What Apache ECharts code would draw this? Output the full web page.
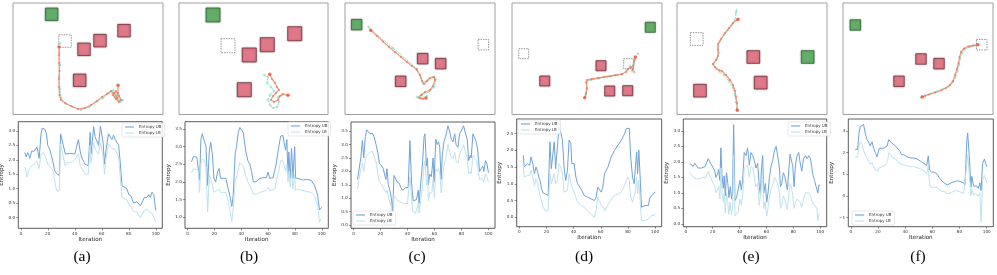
<!DOCTYPE html>
<html><head><meta charset="utf-8">
<script src="https://cdn.jsdelivr.net/npm/echarts@6/dist/echarts.min.js"></script>
<style>html,body{margin:0;padding:0;background:#fff}#c{width:997px;height:275px}</style>
</head><body><div id="c"></div>
<script>
// ---------- DATA ----------
const panelLabels = ['(a)','(b)','(c)','(d)','(e)','(f)'];
const xTicks = [0,20,40,60,80,100];
const yTicksA = [0,0.5,1,1.5,2,2.5,3];
const yTicksB = [1,1.5,2,2.5,3,3.5];
const yTicksC = [0,0.5,1,1.5,2,2.5,3,3.5];
const yTicksD = [0,0.5,1,1.5,2,2.5];
const yTicksE = [0,0.5,1,1.5,2,2.5,3];
const yTicksF = [-1,0,1,2,3];

// top panels: positions in map units
const goalA = [[38.7,11.3]];
const startA = [[52,38]];
const obsA = [[71,46.3],[87,37.7],[111,27.7],[66.7,77.3]];
const pathA = [[46,44],[46,52],[46,60],[46.5,68],[46,76],[46,84],[46.5,92],[48,97],[52,100],[58,103],[65,106],[72,105],[78,102],[84,98],[89,94],[94,91],[98,88],[101,90],[104,95],[106,99],[103,96],[100,92],[103,88],[106,93],[108,97],[105,90],[105,82.3]];
const refA = [[47,40],[46.5,50],[47,62],[46,74],[47,86],[48,95],[53,101],[60,104],[68,107],[76,104],[83,99],[90,95],[96,90],[100,87],[104,92],[107,99],[102,94],[99,90],[104,93],[108,98],[110,97]];

const goalB = [[34,12]];
const startB = [[49,42.7]];
const obsB = [[70.3,52],[88.3,41.7],[115.7,30.7],[65.3,86.7]];
const pathB = [[90.7,71.3],[93,76],[96,80],[98,84],[100,87],[97,90],[94,93],[92,97],[95,99],[99,97],[101,93],[104,91],[109,92.3]];
const refB = [[85,72],[89,74],[88,80],[92,84],[95,88],[91,92],[89,97],[91,102],[94,105],[98,104],[100,99],[99,94],[103,92]];

const goalC = [[11.7,21.7]];
const startC = [[138.3,41.7]];
const obsC = [[77.7,55.7],[95.7,60.7],[55.7,78.3]];
const pathC = [[25.7,27.3],[32,33],[38,38.5],[44,44],[50,49],[56,54],[62,59],[67,63],[71.7,66.7],[75,72],[77,78],[79,81],[82,78],[85,75],[89,74],[90,77],[88,83],[85,87],[80,89],[76,92],[74,95],[78,96],[81,95]];
const refC = [[23.3,24],[48,45],[72,66],[76,75],[78,80],[83,77],[88,74],[91,76],[89,84],[84,89],[77,92],[72,94],[76,95],[82,93]];

const goalD = [[138.3,24.3]];
const startD = [[11.7,50.7],[116.7,60.7]];
const obsD = [[89,62.7],[32.7,78],[97.7,88],[115.7,87.7]];
const pathD = [[72.7,94.7],[74,90],[75,85],[74.5,80],[75,77],[80,76],[86,75],[92,74],[98,73],[104,72],[110,71],[114,69],[116,66],[119,64],[121,67],[122,69],[121,63],[122,58],[123.3,54]];
const refD = [[74,92],[75,86],[74,79],[79,77],[87,75.5],[95,74],[103,72.5],[110,71.5],[115,67],[118,63],[120,68],[122,61],[124,55],[126,50.7]];

const goalE = [[130.7,54]];
const startE = [[19.7,36]];
const obsE = [[76.3,54],[83.7,79.7],[23,87.7]];
const pathE = [[60.3,107.3],[60,100],[59,94],[58,88],[56,82],[53,77],[49,72],[45,68],[42,67],[38,64],[36,61],[39,57],[41,53],[41,47],[41,41],[44,36],[48,30],[52,25],[56,20],[60,17],[61,16.3]];
const refE = [[60,106],[59,99],[58,92],[56,85],[52,78],[47,72],[43,69],[39,66],[36,61],[40,56],[42,50],[41,44],[43,38],[47,32],[51,27],[55,22],[58,17],[59,10],[59.3,7.3]];

const goalF = [[12.3,22]];
const startF = [[138.7,41.7]];
const obsF = [[78,56],[96,60.7],[56,78.3]];
const pathF = [[135,41.7],[130,42.5],[125,43.5],[121,45.5],[118,49],[116.5,54],[115.5,60],[114,66],[112,72],[110,78],[107,82],[103,85],[98,87.5],[92,89.5],[86,91.5],[82,93],[79.3,94]];
const refF = [[133,42.5],[127,44],[122,46],[119,50],[117,56],[116,62],[114.5,68],[112.5,74],[110,79],[106,83],[100,86],[94,88.5],[88,90.5],[82,92.5],[78,94.5]];

// bottom panels: [iteration, entropy]
const ubA = [[3,2.26],[4,2.1],[5,2.25],[6,2.15],[6.7,2.05],[8,2.3],[10,2.3],[12,2.45],[13.6,2.05],[15,2.9],[16,3.1],[17,3.13],[18,3.05],[19,2.9],[20,2.5],[21.6,2.35],[23,2.3],[24,1.9],[25,1.65],[26,1.55],[27,1.5],[28.5,1.45],[29.5,2.9],[31.5,2.5],[33,2.2],[34,2.22],[36,2.22],[38,2.22],[39,2.25],[40,2.2],[42.7,2.7],[44,2.3],[45,2.1],[47.6,1.85],[49,1.8],[50,1.8],[51.4,2.95],[52,2.2],[54,3.15],[55,2.8],[56,2.7],[57.6,2.5],[59,3.17],[61,2.6],[62,1.85],[63,2.3],[65,2.9],[66,2.85],[67.5,2.7],[68.7,2.85],[70,2.7],[71,2.7],[72.5,2.5],[73.7,1.9],[75,1.1],[76,1.05],[77,1.05],[78.6,1.0],[80,0.8],[81.6,0.75],[83.6,0.5],[85,0.5],[86,0.55],[88.6,0.4],[90,0.4],[91.6,0.7],[93.5,0.7],[94.8,0.8],[96,0.7],[97.3,0.88],[98.5,0.8],[100,0.25]];
const lbA = [[3,1.75],[4.7,1.4],[6,1.65],[8,1.8],[10,1.85],[12,1.95],[13.6,1.7],[15,2.2],[16,2.2],[17,2.25],[18,2.15],[19,2.1],[20,1.85],[22,1.75],[24,1.6],[25,1.3],[26,1.05],[27,0.92],[28.5,0.92],[29.5,2.55],[31,2.2],[33,1.8],[34,1.9],[36,1.9],[38,1.92],[40,2.0],[42.7,2.2],[44,1.8],[46,1.65],[48,1.5],[50,1.5],[51.4,2.5],[52,1.9],[54,2.6],[55,2.4],[56,2.3],[57.6,2.2],[59,2.6],[61,2.1],[62,1.5],[63,2.0],[65,2.55],[66,2.5],[67.5,2.4],[68.7,2.45],[70,2.35],[71,2.3],[72.5,2.1],[73.7,1.4],[75,0.7],[76,0.65],[77,0.65],[79,0.6],[80,0.45],[81.6,0.4],[83.6,0.2],[85,0.2],[86,0.2],[88.6,0.0],[90,0.0],[91.6,0.25],[93.5,0.3],[94.8,0.2],[96,0.15],[97.3,0.15],[98.5,0.1],[100,-0.15]];

const ubB = [[3,2.57],[4.4,2.72],[5.7,2.68],[7,2.7],[8,2.68],[9,2.05],[10,3.2],[11,3.37],[12.6,3.15],[13.8,3.0],[15,1.9],[16.3,2.9],[17.3,3.12],[18.5,2.8],[19.7,2.1],[21,2.0],[22.5,2.3],[23.5,2.38],[24.7,2.1],[26,2.15],[27,2.1],[28.6,2.1],[30,1.85],[31.6,1.6],[33,1.3],[34,1.6],[35.5,2.8],[36.5,3.0],[37.8,3.4],[39,3.55],[40.2,3.57],[41.5,3.4],[43.5,2.85],[45,2.6],[46.4,2.5],[47.7,2.3],[49,2.0],[51,2.0],[52,2.05],[54,2.1],[56.3,2.12],[58.8,2.12],[60,2.28],[61.2,2.1],[63.7,2.12],[65,2.15],[66,2.5],[68,3.0],[69.4,3.3],[71,3.32],[72.3,3.3],[73,2.9],[74,3.2],[74.8,2.2],[75.5,2.85],[76.5,2.1],[77.5,2.95],[78.5,2.1],[79.8,3.0],[80.5,2.1],[82,2.1],[86,2.05],[88.4,2.07],[92,2.05],[93.3,2.1],[94.6,1.9],[97,1.6],[98.3,1.2],[99.5,1.25],[100,1.28]];
const lbB = [[3,2.25],[4.4,2.38],[5.7,2.33],[8,2.33],[9,1.7],[10,2.5],[11,2.65],[12.6,2.6],[13.8,2.4],[15,1.15],[16.3,2.2],[17.3,2.2],[18.5,1.9],[19.7,1.7],[21,1.65],[23.5,1.8],[24.7,1.7],[27,1.7],[28.6,1.7],[30,1.5],[31.6,1.2],[33,0.88],[34,1.2],[35.5,2.0],[37,2.2],[39,2.55],[40.2,2.57],[41.5,2.45],[43.5,2.15],[45.5,1.95],[47.7,1.8],[49,1.65],[51,1.65],[54,1.7],[58,1.75],[60,1.85],[61.2,1.75],[65,1.8],[66,2.0],[68,2.3],[69.4,2.6],[71,2.62],[72.3,2.6],[73,2.3],[74,2.5],[74.8,2.0],[75.5,2.3],[76.5,1.85],[77.5,2.35],[78.5,1.8],[79.8,2.2],[80.5,1.75],[82,1.8],[86,1.75],[92,1.7],[94.6,1.6],[97,1.3],[98.3,0.85],[99.5,0.95],[100,0.95]];

const ubC = [[3,1.7],[4.2,1.75],[5.4,2.5],[6.6,3.15],[7.6,2.5],[8.8,3.3],[9.8,3.55],[11,3.5],[12.3,3.4],[14,3.42],[15.2,3.3],[16.7,3.0],[18,2.7],[19.2,2.3],[21,2.2],[22,2.1],[23.3,2.05],[24,1.7],[24.8,2.1],[25.8,1.5],[27,1.3],[28.3,0.9],[29,0.45],[30,1.85],[31.4,1.8],[32.4,1.6],[34,1.55],[35,1.4],[36.4,1.3],[37.3,1.3],[38.8,1.4],[40.5,1.4],[41.8,3.15],[43,1.6],[44.2,0.9],[45.5,0.85],[46.7,0.95],[48,1.3],[48.6,0.8],[49.9,1.6],[51,2.2],[52.3,3.3],[53,3.4],[54,2.2],[54.8,2.5],[55.5,1.5],[56.5,1.9],[57.7,1.8],[59,2.5],[59.7,1.6],[61,3.2],[62,3.0],[63,3.1],[63.9,2.9],[64.9,1.7],[65.8,2.6],[67,3.1],[68.3,3.3],[70,3.7],[71.2,3.5],[72.5,3.2],[73.7,3.1],[75,3.4],[76,3.0],[77.4,2.9],[78.6,3.4],[79.8,3.5],[81.6,3.7],[83,3.4],[84.3,3.2],[85.3,2.4],[86.5,2.6],[87.2,2.5],[88.5,3.4],[89.7,3.45],[91,3.1],[92,2.8],[93.4,2.0],[94.6,2.1],[95.8,2.2],[96.6,2.0],[97.8,2.4],[98.8,2.3],[100,1.95]];
const lbC = [[3,1.35],[4.2,1.4],[5.4,2.1],[6.6,2.3],[7.6,2.0],[9,2.5],[10,2.6],[12,2.7],[14,2.75],[15,2.7],[17,2.3],[18,1.9],[19,1.65],[21,1.5],[22,1.4],[24,1.2],[25,1.3],[26,1.0],[28,0.7],[29,0.05],[30,1.1],[31.4,1.0],[33,0.9],[35,0.85],[37,0.8],[40,0.8],[41.8,1.8],[43,1.0],[44,0.5],[46,0.45],[47,0.5],[48,0.8],[48.6,0.45],[50,1.0],[51,1.4],[52.3,2.2],[53,2.4],[54,1.5],[55,1.7],[55.5,0.9],[56.5,1.2],[58,1.2],[59,1.7],[60,1.0],[61,2.1],[62,2.0],[63,2.1],[64,1.9],[65,1.2],[66,1.8],[67,2.2],[68,2.4],[70,3.0],[71,2.8],[72.5,2.5],[74,2.5],[75,2.7],[76,2.4],[77.4,2.3],[79,2.7],[80,2.8],[81.6,3.0],[83,2.7],[84.3,2.5],[85.3,1.9],[86.5,2.0],[87.2,1.9],[88.5,2.6],[89.7,2.65],[91,2.4],[92,2.2],[93.4,1.7],[95,1.75],[96,1.8],[96.6,1.6],[97.8,1.9],[98.8,1.8],[100,1.6]];

const ubD = [[3,1.85],[3.7,1.5],[5,1.5],[6.2,1.6],[7.7,1.55],[8.7,1.8],[10,1.6],[11.2,1.3],[12.4,1.5],[13.6,1.35],[14.4,1.2],[15.6,1.05],[16.4,0.85],[17.6,0.72],[19.4,0.7],[20.6,0.7],[21.3,0.65],[22.6,2.25],[23.6,1.45],[24.8,1.5],[25.8,2.25],[26.8,1.45],[28,1.5],[29.3,2.7],[30.5,2.55],[31.8,2.3],[33,1.5],[34.2,1.1],[35.5,1.4],[36.7,2.3],[38,2.2],[38.7,1.6],[40.4,1.6],[41.7,1.2],[43,1.0],[45.4,0.85],[47.9,0.65],[50.4,0.6],[52.9,0.55],[54,0.55],[55.3,0.5],[56.6,0.6],[57.8,0.9],[59,0.85],[60.3,0.75],[61.5,0.9],[62.8,1.3],[64,1.3],[65.3,1.5],[67.7,1.8],[70.2,2.0],[72.7,2.15],[75.2,2.3],[76.4,2.4],[77.7,2.5],[78.9,2.65],[80.1,2.7],[81,2.65],[82,1.8],[83.4,1.2],[84.6,1.0],[85.6,1.55],[86.4,1.95],[87.1,1.3],[88,2.0],[89,1.2],[90,0.3],[92.6,0.35],[95,0.35],[96.3,0.6],[97.5,0.65],[99,0.7],[100,0.76]];
const lbD = [[3,1.5],[3.7,1.2],[5,1.2],[6.2,1.25],[7.7,1.25],[8.7,1.4],[10,1.2],[11.2,0.95],[12.4,1.15],[13.6,1.0],[15,0.7],[16.4,0.5],[17.6,0.3],[19.4,0.18],[20.6,0.13],[21.3,0.2],[22.6,1.3],[23.6,1.0],[24.8,1.0],[25.8,1.3],[26.8,1.0],[28,1.1],[29.3,1.6],[30.5,1.5],[31.8,1.3],[33,0.75],[34.2,0.8],[35.5,0.8],[36.7,1.3],[38,1.3],[38.7,0.9],[40.4,0.75],[41.7,0.6],[43,0.45],[45.4,0.35],[48,0.3],[50,0.2],[52.9,0.08],[54,0.1],[55.3,0.0],[56.6,0.2],[57.8,0.6],[59,0.5],[60.3,0.35],[62,0.3],[63,0.2],[65,0.35],[68,0.55],[70,0.65],[73,0.7],[75,0.75],[77,0.9],[78.9,1.1],[80.1,1.2],[81,1.1],[82,0.6],[83.4,0.45],[84.6,0.4],[85.6,0.8],[86.4,1.2],[87.1,0.7],[88,1.1],[89,0.5],[90,-0.1],[91,-0.12],[93,-0.1],[95,-0.05],[97,0.05],[99,0.05],[100,0.1]];

const ubE = [[3,1.95],[4.2,1.9],[5.5,1.85],[6.7,1.95],[8,1.95],[9.2,1.8],[10.4,1.85],[11.7,1.8],[12.9,1.85],[14.4,1.85],[15.4,1.9],[16.7,2.1],[17.9,2.0],[19.2,1.9],[20.4,1.85],[21.6,1.7],[22.4,1.5],[23.6,1.6],[24.4,1.75],[25.4,1.4],[26.1,2.45],[26.9,1.6],[27.9,1.15],[28.6,1.55],[29.4,0.9],[30.3,1.65],[31.3,1.3],[32.1,0.85],[33.1,1.2],[34.1,0.8],[34.8,1.1],[35.6,3.2],[36.6,0.75],[37.8,0.85],[39,0.9],[40.3,1.4],[41.3,1.1],[42.3,1.4],[43.5,2.3],[44.8,2.2],[46,2.45],[47.3,1.9],[48.5,2.3],[49.8,2.2],[51,2.05],[52.2,1.8],[53.5,1.95],[54.7,1.2],[55.5,0.95],[56.2,1.7],[57.2,2.2],[58,1.0],[59.2,1.3],[60.2,0.7],[61.2,1.0],[62.2,1.5],[63.4,1.85],[64.7,2.05],[65.9,2.35],[67.2,2.5],[68.4,2.2],[69.7,1.8],[70.4,1.2],[71.4,1.3],[72.6,1.65],[73.6,1.55],[74.6,1.6],[75.6,1.1],[76.6,1.7],[77.6,2.25],[78.6,2.25],[79.6,1.85],[80.6,1.2],[81.6,1.9],[82.8,2.2],[84,2.3],[85,2.0],[86.3,1.7],[87.6,2.1],[89,2.2],[90.3,2.1],[91.5,2.2],[92.8,2.1],[94.5,1.6],[95.8,1.4],[97,1.2],[98.3,1.0],[99,1.25],[100,1.25]];
const lbE = [[3,1.65],[4.2,1.6],[5.5,1.5],[6.7,1.55],[8,1.45],[9.2,1.4],[10.4,1.45],[11.7,1.4],[13,1.5],[15,1.5],[16.7,1.7],[18,1.55],[19,1.5],[20,1.35],[21.6,1.2],[22.4,1.0],[23.6,1.05],[24.4,1.2],[25.4,0.8],[26.1,1.8],[27,1.0],[28,0.7],[28.6,1.0],[29.4,0.35],[30.3,1.0],[31.3,0.7],[32,0.3],[33,0.7],[34,0.3],[35,0.6],[35.6,2.2],[36.6,0.25],[38,0.3],[39,0.4],[40.3,0.8],[41.3,0.6],[42.3,0.9],[43.5,1.8],[44.8,1.8],[46,1.9],[47.3,1.5],[48.5,1.85],[50,1.8],[51,1.5],[52,1.2],[53.5,1.3],[54.7,0.6],[55.5,0.55],[56.2,1.2],[57.2,1.6],[58,0.5],[59,0.7],[60.2,0.25],[61,0.45],[62,0.8],[63.4,1.1],[65,1.3],[66,1.5],[67.2,1.5],[68.4,1.3],[69.7,1.0],[70.4,0.5],[71.4,0.6],[72.6,0.9],[73.6,0.8],[74.6,0.85],[75.6,0.45],[76.6,0.9],[77.6,1.3],[78.6,1.2],[79.6,0.9],[80.6,0.5],[81.6,0.7],[82.8,0.8],[84,0.85],[85,0.7],[86.3,0.55],[87.6,0.8],[89,1.0],[90.3,0.95],[91.5,1.0],[92.8,0.9],[94.5,0.65],[96,0.6],[97.5,0.5],[98.3,0.1],[99,0.3],[100,0.35]];

const ubF = [[3.2,2.15],[5,2.15],[6,2.9],[7,3.2],[8.4,3.25],[9.4,3.3],[10.6,2.9],[11.9,2.6],[13,2.5],[14.3,2.3],[15.6,2.5],[16.8,2.2],[18,2.0],[19.3,1.8],[20,1.75],[21,2.2],[22.2,2.2],[24.2,2.2],[25.4,2.2],[26.7,2.3],[27.9,2.6],[29.1,2.5],[31,2.4],[32.8,2.3],[34,2.3],[35.8,2.1],[37.3,1.9],[39,1.9],[41.5,1.8],[44,1.75],[46.4,1.75],[48.9,1.7],[51.4,1.6],[53.8,1.5],[55.8,1.4],[57,1.85],[58,1.2],[59.3,1.1],[61.2,1.1],[62.5,1.05],[63.7,1.0],[65,0.85],[66.2,0.75],[68.6,0.6],[71,0.5],[73.6,0.6],[76,0.65],[78.5,0.7],[81,0.65],[83,0.6],[84,0.5],[84.7,1.5],[85.4,2.6],[86,2.9],[87.2,1.8],[88.4,0.4],[89,0.9],[90.4,0.45],[91.6,0.5],[92.8,0.45],[93.8,0.35],[95,0.6],[95.8,0.25],[97,1.5],[98.3,1.7],[99,1.7],[100,1.35]];
const lbF = [[3.2,1.8],[5,1.8],[6,2.3],[7,2.5],[8.4,2.4],[9.4,2.1],[10.6,1.9],[12,1.75],[13,1.6],[14.3,1.45],[15.6,1.55],[17,1.3],[18,1.2],[20,1.15],[21,1.3],[22,1.3],[25,1.4],[27,1.6],[28,2.0],[29,1.9],[31,1.75],[33,1.7],[34,1.6],[36,1.5],[38,1.45],[41,1.4],[44,1.35],[46,1.35],[49,1.3],[51,1.25],[54,1.15],[55.8,1.0],[57,1.4],[58,0.5],[59,0.4],[61,0.4],[63,0.4],[65,0.3],[67,0.2],[69,0.2],[71,0.1],[74,0.15],[77,0.25],[80,0.2],[83,0.1],[84,0.05],[85.4,1.5],[86,1.9],[87.2,1.0],[88.4,0.0],[89,0.3],[90.4,0.05],[92,0.1],[93.8,0.0],[95,0.15],[95.8,-1.2],[96.5,-0.2],[97,0.7],[98.3,0.95],[99,0.95],[100,0.6]];

// ---------- LAYOUT / STYLE ----------
const topLayout = [
  {l:13,t:3,w:150,h:111.5,sq:12.5},{l:179,t:3,w:149,h:111.5,sq:14},{l:345,t:3,w:150,h:111.5,sq:10.5},
  {l:512,t:3,w:150,h:111.5,sq:10},{l:677,t:3,w:150,h:111.5,sq:12.7},{l:843,t:3,w:150,h:111.5,sq:10.5}
];
const botLayout = [
  {l:18.3,r:162.3,t:121.7,b:228.3,ymin:-0.37,ymax:3.32,leg:{left:122,top:123},lab:82},
  {l:185,r:328.3,t:121.7,b:228.3,ymin:0.68,ymax:3.71,leg:{left:288,top:122},lab:249},
  {l:351,r:495,t:122,b:228.3,ymin:-0.12,ymax:3.84,leg:{left:353,top:211},lab:417},
  {l:516.7,r:661.7,t:119,b:226.7,ymin:-0.28,ymax:2.93,leg:{left:518,top:120},lab:584},
  {l:683.3,r:826.7,t:119,b:226.7,ymin:-0.09,ymax:3.38,leg:{left:788,top:122},lab:751},
  {l:848.3,r:993.3,t:119,b:226.7,ymin:-1.42,ymax:3.55,leg:{left:852,top:211},lab:918}
];
const goals=[goalA,goalB,goalC,goalD,goalE,goalF];
const starts=[startA,startB,startC,startD,startE,startF];
const obss=[obsA,obsB,obsC,obsD,obsE,obsF];
const paths=[pathA,pathB,pathC,pathD,pathE,pathF];
const refs=[refA,refB,refC,refD,refE,refF];
const ubs=[ubA,ubB,ubC,ubD,ubE,ubF];
const lbs=[lbA,lbB,lbC,lbD,lbE,lbF];
const yTicks=[yTicksA,yTicksB,yTicksC,yTicksD,yTicksE,yTicksF];

const UB_COLOR='#6ea2d7', LB_COLOR='#bfe2ee';
const PLUS='path://M4,0 L6,0 L6,4 L10,4 L10,6 L6,6 L6,10 L4,10 L4,6 L0,6 L0,4 L4,4 Z';

const grid=[],xAxis=[],yAxis=[],series=[],legend=[],graphic=[];
topLayout.forEach((b,i)=>{
  grid.push({left:b.l,top:b.t,width:b.w,height:b.h,show:true,borderColor:'#a0a0a0',borderWidth:1,backgroundColor:'#fff',outerBoundsMode:'none'});
  xAxis.push({type:'value',gridIndex:i,min:0,max:b.w,show:false,axisLine:{onZero:false}});
  yAxis.push({type:'value',gridIndex:i,min:0,max:b.h,inverse:true,show:false,axisLine:{onZero:false}});
  const sq=b.sq;
  series.push({type:'scatter',xAxisIndex:i,yAxisIndex:i,data:obss[i],symbol:'rect',symbolSize:sq,z:2,
    itemStyle:{color:'#e8687b',borderColor:'#6e2833',borderWidth:0.9,shadowBlur:2,shadowColor:'rgba(0,0,0,0.35)'}});
  series.push({type:'scatter',xAxisIndex:i,yAxisIndex:i,data:goals[i],symbol:'rect',symbolSize:sq,z:2,
    itemStyle:{color:'#4caa52',borderColor:'#2a632d',borderWidth:0.9,shadowBlur:2,shadowColor:'rgba(0,0,0,0.35)'}});
  series.push({type:'scatter',xAxisIndex:i,yAxisIndex:i,data:starts[i],symbol:'rect',symbolSize:sq,z:2,
    itemStyle:{color:'#fff',borderColor:'#707070',borderWidth:0.9,borderType:[1.5,1]}});
  series.push({type:'line',xAxisIndex:i,yAxisIndex:i,data:refs[i],z:3,symbol:PLUS,symbolSize:3,showSymbol:true,
    lineStyle:{color:'rgba(90,210,170,0.75)',width:0.9,type:[2,1]},itemStyle:{color:'rgba(90,210,170,0.8)'}});
  series.push({type:'line',xAxisIndex:i,yAxisIndex:i,data:paths[i],z:4,symbol:'circle',symbolSize:2.2,showSymbol:true,
    lineStyle:{color:'rgba(242,120,90,0.7)',width:1.3},itemStyle:{color:'rgba(242,110,80,0.7)'}});
  const p=paths[i];
  series.push({type:'scatter',xAxisIndex:i,yAxisIndex:i,data:[p[0],p[p.length-1]],z:5,symbol:'circle',symbolSize:3.5,
    itemStyle:{color:'#f0583a'}});
});
botLayout.forEach((b,k)=>{
  const i=k+6;
  grid.push({left:b.l,top:b.t,width:b.r-b.l,height:b.b-b.t,show:true,borderColor:'#4a4a4a',borderWidth:0.9,backgroundColor:'#fff',outerBoundsMode:'none'});
  xAxis.push({type:'value',gridIndex:i,min:-1.85,max:104.85,position:'bottom',
    name:'Iteration',nameLocation:'middle',nameGap:7.5,nameTextStyle:{fontSize:5.6,color:'#222',fontFamily:'DejaVu Sans'},
    axisLine:{show:false,onZero:false},splitLine:{show:false},
    axisTick:{show:true,length:2,lineStyle:{color:'#444',width:0.6},customValues:xTicks},
    axisLabel:{fontSize:4.2,color:'#333',margin:3.2,fontFamily:'DejaVu Sans',customValues:xTicks,formatter:v=>String(v)}});
  const yt=yTicks[k];
  yAxis.push({type:'value',gridIndex:i,min:b.ymin,max:b.ymax,position:'left',
    name:'Entropy',nameLocation:'middle',nameGap:10.5,nameTextStyle:{fontSize:5.6,color:'#222',fontFamily:'DejaVu Sans'},
    axisLine:{show:false,onZero:false},splitLine:{show:false},
    axisTick:{show:true,length:2,lineStyle:{color:'#444',width:0.6},customValues:yt},
    axisLabel:{fontSize:4.2,color:'#333',margin:3.2,fontFamily:'DejaVu Sans',customValues:yt,
      formatter:v=>(k===5?(v<0?'\u2212'+Math.abs(v):String(v)):Number(v).toFixed(1))}});
  series.push({type:'line',name:'Entropy UB',xAxisIndex:i,yAxisIndex:i,data:ubs[k],showSymbol:false,symbol:'none',
    lineStyle:{color:UB_COLOR,width:1},itemStyle:{color:UB_COLOR},z:3});
  series.push({type:'line',name:'Entropy LB',xAxisIndex:i,yAxisIndex:i,data:lbs[k],showSymbol:false,symbol:'none',
    lineStyle:{color:LB_COLOR,width:1},itemStyle:{color:LB_COLOR},z:3});
  legend.push({left:b.leg.left,top:b.leg.top,orient:'vertical',selectedMode:false,icon:'rect',itemWidth:9,itemHeight:1.1,itemGap:2,
    padding:[2,3,2,3],borderColor:'#d6d6d6',borderWidth:0.6,borderRadius:1.5,backgroundColor:'rgba(255,255,255,0.85)',
    textStyle:{fontSize:4,color:'#333',fontFamily:'DejaVu Sans'},data:['Entropy UB','Entropy LB']});
  graphic.push({type:'text',x:b.lab,y:256.5,style:{text:panelLabels[k],font:'15.5px "Liberation Serif"',fill:'#000',textAlign:'center',textVerticalAlign:'middle',verticalAlign:'middle'}});
});

const chart=echarts.init(document.getElementById('c'),null,{renderer:'canvas',width:997,height:275});
chart.setOption({animation:false,backgroundColor:'#fff',grid,xAxis,yAxis,series,legend,graphic,tooltip:{show:false}});
</script></body></html>
